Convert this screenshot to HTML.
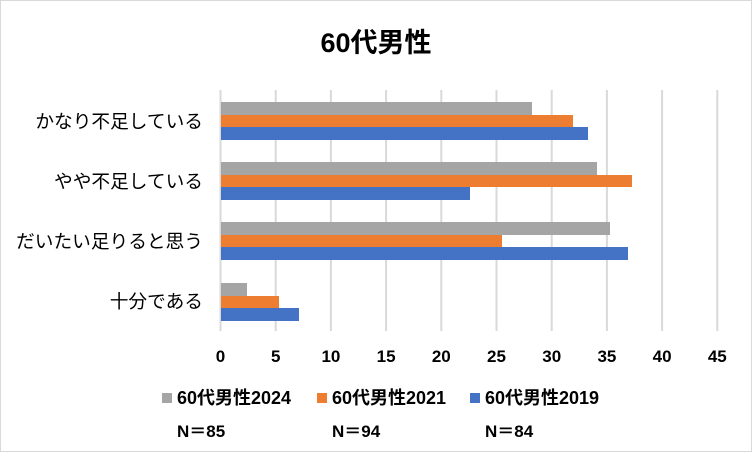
<!DOCTYPE html>
<html><head><meta charset="utf-8"><style>
body{margin:0;background:#fff}
text{font-family:"Liberation Sans","Noto Sans CJK JP",sans-serif;fill:#000}
</style></head><body>
<svg width="752" height="452" xmlns="http://www.w3.org/2000/svg">
<rect x="0.5" y="0.5" width="751" height="451" fill="#fff" stroke="#d9d9d9"/>
<text x="376" y="52" font-size="27" font-weight="bold" text-anchor="middle">60代男性</text>
<g stroke="#d9d9d9" stroke-width="2">
<line x1="220.5" y1="90" x2="220.5" y2="331"/>
<line x1="275.7" y1="90" x2="275.7" y2="331"/>
<line x1="330.9" y1="90" x2="330.9" y2="331"/>
<line x1="386.1" y1="90" x2="386.1" y2="331"/>
<line x1="441.3" y1="90" x2="441.3" y2="331"/>
<line x1="496.5" y1="90" x2="496.5" y2="331"/>
<line x1="551.7" y1="90" x2="551.7" y2="331"/>
<line x1="606.9" y1="90" x2="606.9" y2="331"/>
<line x1="662.1" y1="90" x2="662.1" y2="331"/>
<line x1="717.3" y1="90" x2="717.3" y2="331"/>
</g>
<g>
<rect x="221" y="102" width="311" height="13" fill="#a5a5a5"/>
<rect x="221" y="115" width="352" height="12" fill="#ed7d31"/>
<rect x="221" y="127" width="367" height="13" fill="#4472c4"/>
<rect x="221" y="162" width="376" height="13" fill="#a5a5a5"/>
<rect x="221" y="175" width="411" height="12" fill="#ed7d31"/>
<rect x="221" y="187" width="249" height="13" fill="#4472c4"/>
<rect x="221" y="222" width="389" height="13" fill="#a5a5a5"/>
<rect x="221" y="235" width="281" height="12" fill="#ed7d31"/>
<rect x="221" y="247" width="407" height="13" fill="#4472c4"/>
<rect x="221" y="283" width="26" height="13" fill="#a5a5a5"/>
<rect x="221" y="296" width="58" height="12" fill="#ed7d31"/>
<rect x="221" y="308" width="78" height="13" fill="#4472c4"/>
</g>
<g font-size="18.7" text-anchor="end">
<text x="203" y="128">かなり不足している</text>
<text x="203" y="188">やや不足している</text>
<text x="203" y="248">だいたい足りると思う</text>
<text x="203" y="308">十分である</text>
</g>
<g font-size="17" font-weight="bold" text-anchor="middle">
<text x="220.5" y="362">0</text><text x="275.7" y="362">5</text><text x="330.9" y="362">10</text>
<text x="386.1" y="362">15</text><text x="441.3" y="362">20</text><text x="496.5" y="362">25</text>
<text x="551.7" y="362">30</text><text x="606.9" y="362">35</text><text x="662.1" y="362">40</text>
<text x="717.3" y="362">45</text>
</g>
<g font-size="18" font-weight="bold">
<rect x="162" y="393" width="10" height="10" fill="#a5a5a5"/><text x="177" y="404">60代男性2024</text>
<rect x="317" y="393" width="10" height="10" fill="#ed7d31"/><text x="332" y="404">60代男性2021</text>
<rect x="470" y="393" width="10" height="10" fill="#4472c4"/><text x="485" y="404">60代男性2019</text>
</g>
<g font-size="17" font-weight="bold">
<text x="177" y="437">N＝85</text>
<text x="332" y="437">N＝94</text>
<text x="485" y="437">N＝84</text>
</g>
</svg>
</body></html>
